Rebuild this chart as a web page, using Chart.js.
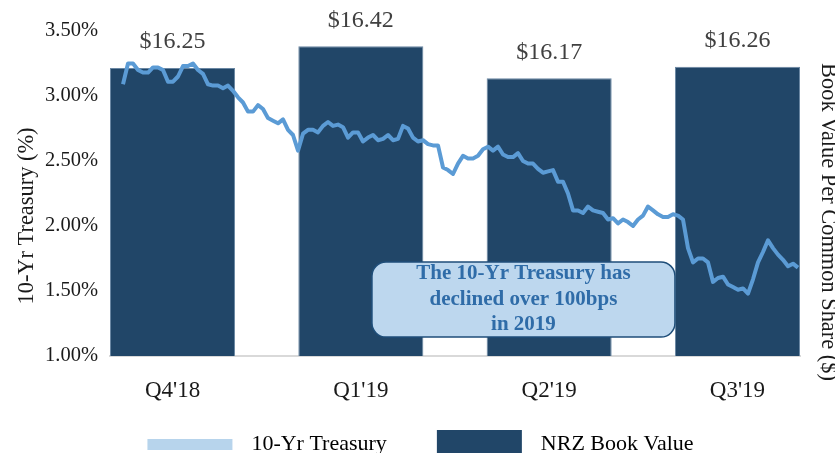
<!DOCTYPE html>
<html>
<head>
<meta charset="utf-8">
<script src="https://cdn.jsdelivr.net/npm/chart.js@4/dist/chart.umd.min.js"></script>
<style>
  html, body { margin: 0; padding: 0; background: #fff; }
  #wrap { width: 835px; height: 453px; }
</style>
</head>
<body>
<div id="wrap"><canvas id="chart" width="835" height="453"></canvas></div>
<script>
// ── Data ─────────────────────────────────────────────────────────────────────

const QUARTERS   = ["Q4'18", "Q1'19", "Q2'19", "Q3'19"];
const BOOK_VALUE = [16.25, 16.42, 16.17, 16.26];

// 10-Yr Treasury yield (%), Oct 2018 -> Sep 2019
const TREASURY = [
  3.09, 3.25, 3.25, 3.20, 3.18, 3.18, 3.22, 3.22, 3.20, 3.11,
  3.11, 3.15, 3.23, 3.23, 3.25, 3.20, 3.17, 3.09, 3.08, 3.08,
  3.06, 3.08, 3.04, 2.99, 2.95, 2.88, 2.88, 2.93, 2.90, 2.83,
  2.81, 2.79, 2.82, 2.74, 2.70, 2.58, 2.71, 2.74, 2.74, 2.72,
  2.77, 2.80, 2.77, 2.78, 2.76, 2.68, 2.72, 2.72, 2.65, 2.68,
  2.70, 2.66, 2.67, 2.70, 2.66, 2.67, 2.77, 2.75, 2.68, 2.65,
  2.66, 2.63, 2.62, 2.62, 2.45, 2.43, 2.40, 2.48, 2.54, 2.52,
  2.52, 2.54, 2.59, 2.61, 2.58, 2.61, 2.55, 2.53, 2.53, 2.56,
  2.50, 2.48, 2.48, 2.44, 2.41, 2.42, 2.43, 2.34, 2.34, 2.25,
  2.12, 2.12, 2.10, 2.15, 2.12, 2.11, 2.10, 2.05, 2.06, 2.02,
  2.05, 2.03, 2.00, 2.05, 2.08, 2.15, 2.12, 2.09, 2.07, 2.07,
  2.09, 2.08, 2.05, 1.83, 1.72, 1.75, 1.75, 1.72, 1.57, 1.60,
  1.61, 1.55, 1.53, 1.51, 1.52, 1.48, 1.59, 1.72, 1.80, 1.89,
  1.83, 1.78, 1.74, 1.69, 1.71, 1.68,
];

const YIELD_TICKS = [1.0, 1.5, 2.0, 2.5, 3.0, 3.5];
const CALLOUT_LINES = ['The 10-Yr Treasury has', 'declined over 100bps', 'in 2019'];

const C_BAR      = '#214668';
const C_BAR_EDGE = '#6a87a3';
const C_LINE     = '#5b9bd5';
const C_LINE_KEY = '#b7d4ec';
const C_BOX      = '#bdd7ee';
const C_BOX_EDGE = '#1f4e79';
const C_BOX_TEXT = '#2f6ca8';
const C_TEXT     = '#1a1a1a';
const C_LABEL    = '#404040';
const C_AXIS     = '#d9d9d9';
const SERIF      = '"Liberation Serif", "Times New Roman", serif';

// ── Helpers ──────────────────────────────────────────────────────────────────

function swatch(h, color) {
  const c = document.createElement('canvas');
  c.width = 134;
  c.height = h;
  const g = c.getContext('2d');
  g.fillStyle = color;
  g.fillRect(41, 0, 85, h);
  return c;
}

function roundRect(ctx, x, y, w, h, r) {
  ctx.beginPath();
  ctx.moveTo(x + r, y);
  ctx.arcTo(x + w, y, x + w, y + h, r);
  ctx.arcTo(x + w, y + h, x, y + h, r);
  ctx.arcTo(x, y + h, x, y, r);
  ctx.arcTo(x, y, x + w, y, r);
  ctx.closePath();
}

// ── Plugins ──────────────────────────────────────────────────────────────────

const valueLabels = {
  id: 'valueLabels',
  afterDatasetsDraw(chart) {
    const ctx = chart.ctx;
    const meta = chart.getDatasetMeta(1);
    ctx.save();
    ctx.font = '24px ' + SERIF;
    ctx.fillStyle = C_LABEL;
    ctx.textAlign = 'center';
    ctx.textBaseline = 'middle';
    meta.data.forEach((bar, i) => {
      ctx.fillText('$' + BOOK_VALUE[i].toFixed(2), bar.x, bar.y - 26);
    });
    ctx.restore();
  }
};

const callout = {
  id: 'callout',
  afterDraw(chart) {
    const { ctx, scales } = chart;
    const x0 = scales.x.getPixelForValue(1.059);
    const x1 = scales.x.getPixelForValue(2.668);
    const y0 = scales.y.getPixelForValue(1.723);
    const y1 = scales.y.getPixelForValue(1.146);
    ctx.save();
    roundRect(ctx, x0, y0, x1 - x0, y1 - y0, 14);
    ctx.fillStyle = C_BOX;
    ctx.fill();
    ctx.lineWidth = 1.5;
    ctx.strokeStyle = C_BOX_EDGE;
    ctx.stroke();
    ctx.font = 'bold 21px ' + SERIF;
    ctx.fillStyle = C_BOX_TEXT;
    ctx.textAlign = 'center';
    ctx.textBaseline = 'middle';
    const cx = (x0 + x1) / 2;
    const cy = (y0 + y1) / 2;
    CALLOUT_LINES.forEach((t, i) => ctx.fillText(t, cx, cy + (i - 1) * 25.5));
    ctx.restore();
  }
};

const axisTitles = {
  id: 'axisTitles',
  afterDraw(chart) {
    const ctx = chart.ctx;
    ctx.save();
    ctx.font = '22.4px ' + SERIF;
    ctx.fillStyle = C_TEXT;
    ctx.textAlign = 'center';
    ctx.textBaseline = 'middle';

    ctx.save();
    ctx.translate(27, 216);
    ctx.rotate(-Math.PI / 2);
    ctx.fillText('10-Yr Treasury (%)', 0, 0);
    ctx.restore();

    ctx.save();
    ctx.translate(828, 222);
    ctx.rotate(Math.PI / 2);
    ctx.fillText('Book Value Per Common Share ($)', 0, 0);
    ctx.restore();

    ctx.restore();
  }
};

// ── Chart ────────────────────────────────────────────────────────────────────

Chart.defaults.font.family = SERIF;
Chart.defaults.color = C_TEXT;

new Chart(document.getElementById('chart'), {
  data: {
    datasets: [
      {
        type: 'line',
        label: '10-Yr Treasury',
        data: TREASURY.map((v, i) => ({ x: i, y: v })),
        xAxisID: 'xl',
        yAxisID: 'y',
        borderColor: C_LINE,
        borderWidth: 4,
        borderJoinStyle: 'round',
        pointRadius: 0,
        tension: 0,
        order: 0,
      },
      {
        type: 'bar',
        label: 'NRZ Book Value',
        data: BOOK_VALUE.map((v, i) => ({ x: i, y: v })),
        xAxisID: 'x',
        yAxisID: 'y2',
        backgroundColor: C_BAR,
        borderColor: C_BAR_EDGE,
        borderWidth: 1,
        grouped: false,
        categoryPercentage: 1,
        barPercentage: 0.664,
        order: 1,
      },
    ]
  },
  options: {
    responsive: false,
    animation: false,
    layout: { padding: { top: 31, right: 35, bottom: -12, left: 0 } },
    plugins: {
      tooltip: { enabled: false },
      legend: {
        position: 'bottom',
        labels: {
          usePointStyle: true,
          pointStyleWidth: 134,
          padding: 9,
          color: '#000',
          font: { size: 22 },
          generateLabels: () => [
            { text: '10-Yr Treasury', pointStyle: swatch(11, C_LINE_KEY), fillStyle: C_LINE_KEY, strokeStyle: C_LINE_KEY, lineWidth: 0, hidden: false, datasetIndex: 0 },
            { text: 'NRZ Book Value', pointStyle: swatch(28, C_BAR), fillStyle: C_BAR, strokeStyle: C_BAR, lineWidth: 0, hidden: false, datasetIndex: 1 },
          ]
        }
      }
    },
    scales: {
      x: {
        type: 'linear',
        position: 'bottom',
        offset: false,
        min: -0.332,
        max: 3.332,
        afterBuildTicks: s => { s.ticks = QUARTERS.map((q, i) => ({ value: i })); },
        afterFit: s => { s.height = 68; },
        ticks: {
          callback: v => QUARTERS[v],
          autoSkip: false,
          maxRotation: 0,
          padding: 21,
          color: C_TEXT,
          font: { size: 23 },
        },
        grid: { display: false, drawTicks: false, offset: false },
        border: { display: true, color: C_AXIS, width: 2 },
      },
      // hidden day axis for the treasury line, laid out like a normal box
      xl: {
        type: 'linear',
        position: 'bottom',
        offset: false,
        min: -2.6,
        max: TREASURY.length - 1 + 0.4,
        afterFit: s => { s.height = 0; },
        ticks: { display: false },
        grid: { display: false, drawTicks: false },
        border: { display: false },
      },
      y: {
        position: 'left',
        min: 1,
        max: 3.5,
        afterBuildTicks: s => { s.ticks = YIELD_TICKS.map(v => ({ value: v })); },
        afterFit: s => { s.width = 110; },
        ticks: {
          callback: v => v.toFixed(2) + '%',
          padding: 12,
          color: C_TEXT,
          font: { size: 20.5 },
        },
        grid: { display: false, drawTicks: false },
        border: { display: false },
      },
      y2: {
        position: 'right',
        display: false,
        min: 14,
        max: 16.54,
      },
    }
  },
  plugins: [valueLabels, callout, axisTitles]
});
</script>
</body>
</html>
